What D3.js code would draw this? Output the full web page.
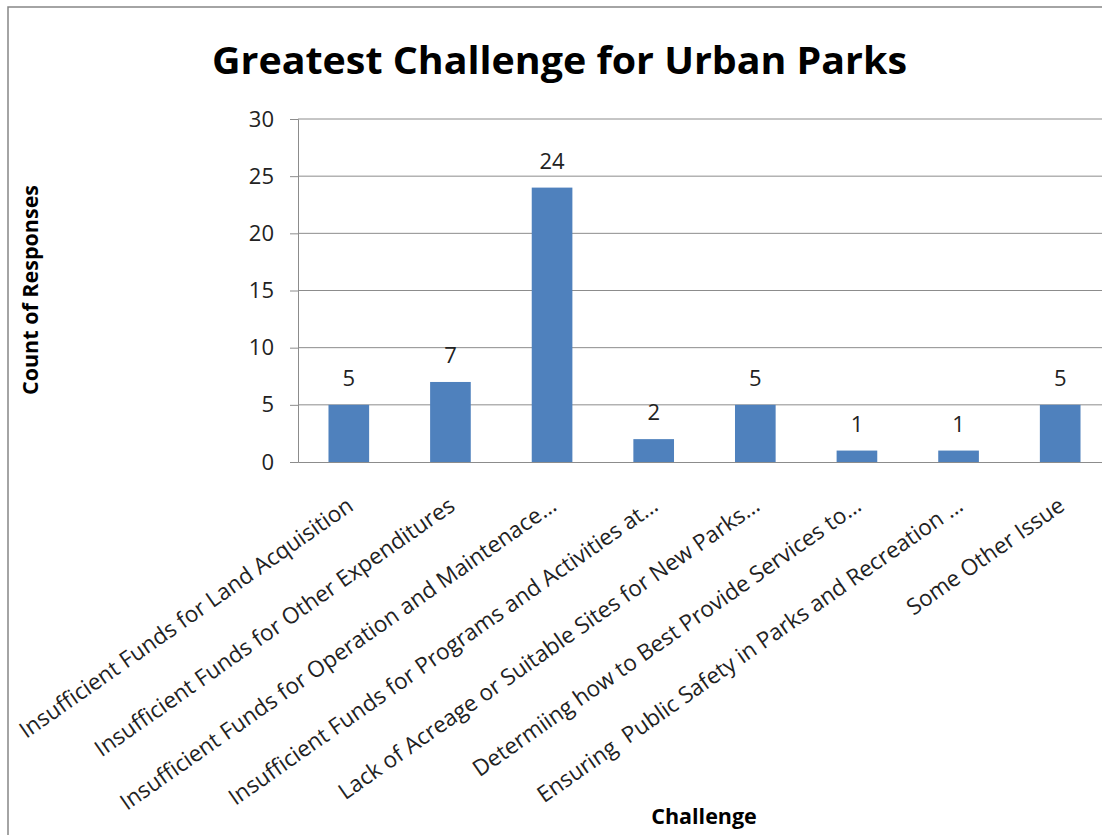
<!DOCTYPE html>
<html>
<head>
<meta charset="utf-8">
<script src="https://cdn.jsdelivr.net/npm/d3@7"></script>
<style>
  html, body { margin: 0; padding: 0; background: #fff; overflow: hidden; }
  svg { display: block; }
</style>
</head>
<body>
<svg id="chart" width="1102" height="835"></svg>
<script>
const categories = [
  "Insufficient Funds for Land Acquisition",
  "Insufficient Funds for Other Expenditures",
  "Insufficient Funds for Operation and Maintenace…",
  "Insufficient Funds for Programs and Activities at…",
  "Lack of Acreage or Suitable Sites for New Parks…",
  "Determiing how to Best Provide Services to…",
  "Ensuring  Public Safety in Parks and Recreation …",
  "Some Other Issue"
];
const counts = [5, 7, 24, 2, 5, 1, 1, 5];
const yTicks = [0, 5, 10, 15, 20, 25, 30];
const titleText = "Greatest Challenge for Urban Parks";
const yTitleText = "Count of Responses";
const xTitleText = "Challenge";

const FONT = "'Open Sans', 'Noto Sans', sans-serif";
const svg = d3.select("#chart");

const plot = { left: 298, right: 1111, top: 119, bottom: 462 };

// outer chart border (right/bottom edges fall outside the view)
svg.append("rect")
  .attr("x", 8).attr("y", 7).attr("width", 1300).attr("height", 1000)
  .attr("fill", "#fff").attr("stroke", "#868686").attr("stroke-width", 1.5);

const x = d3.scaleBand().domain(categories).range([plot.left, plot.right])
  .paddingInner(0.6).paddingOuter(0.3);
const y = d3.scaleLinear().domain([0, 30]).range([plot.bottom, plot.top]);

// gridlines
svg.append("g").selectAll("line").data(yTicks.filter(d => d > 0)).join("line")
  .attr("x1", plot.left).attr("x2", plot.right)
  .attr("y1", d => y(d)).attr("y2", d => y(d))
  .attr("stroke", "#8c8c8c").attr("stroke-width", 1);

// bars
svg.append("g").selectAll("rect").data(counts).join("rect")
  .attr("x", (d, i) => x(categories[i]))
  .attr("width", x.bandwidth())
  .attr("y", d => y(d))
  .attr("height", d => y(0) - y(d))
  .attr("fill", "#4F81BD");

// data labels
svg.append("g").selectAll("text").data(counts).join("text")
  .attr("x", (d, i) => x(categories[i]) + x.bandwidth() / 2)
  .attr("y", d => y(d) - 19)
  .attr("text-anchor", "middle")
  .attr("font-family", FONT).attr("font-size", 22).attr("fill", "#222")
  .text(d => d);

// y axis
const yAxis = d3.axisLeft(y).tickValues(yTicks).tickSize(8).tickPadding(16);
const yg = svg.append("g").attr("transform", `translate(${plot.left},0)`).call(yAxis);
yg.select(".domain").attr("stroke", "#8c8c8c");
yg.selectAll(".tick line").attr("stroke", "#8c8c8c");
yg.selectAll(".tick text").attr("font-family", FONT).attr("font-size", 22).attr("fill", "#222");

// x axis
const xAxis = d3.axisBottom(x).tickSize(0).tickFormat("");
const xg = svg.append("g").attr("transform", `translate(0,${plot.bottom})`).call(xAxis);
xg.select(".domain").attr("stroke", "#8c8c8c");

// rotated category labels
svg.append("g").selectAll("text").data(categories).join("text")
  .attr("text-anchor", "end")
  .attr("transform", d => `translate(${x(d) + x.bandwidth() / 2 + 6},${plot.bottom + 47}) rotate(-35)`)
  .attr("font-family", FONT).attr("font-size", 22.5).attr("fill", "#222")
  .style("white-space", "pre")
  .text(d => d);

// title
svg.append("text")
  .attr("x", 559.5).attr("y", 74)
  .attr("text-anchor", "middle")
  .attr("font-family", FONT).attr("font-weight", "bold").attr("font-size", 37)
  .attr("fill", "#000")
  .attr("textLength", 695).attr("lengthAdjust", "spacingAndGlyphs")
  .text(titleText);

// y title
svg.append("text")
  .attr("transform", "translate(38,290) rotate(-90)")
  .attr("text-anchor", "middle")
  .attr("font-family", FONT).attr("font-weight", "bold").attr("font-size", 21.5)
  .attr("fill", "#000")
  .text(yTitleText);

// x title
svg.append("text")
  .attr("x", 704).attr("y", 824)
  .attr("text-anchor", "middle")
  .attr("font-family", FONT).attr("font-weight", "bold").attr("font-size", 21.5)
  .attr("fill", "#000")
  .text(xTitleText);
</script>
</body>
</html>
